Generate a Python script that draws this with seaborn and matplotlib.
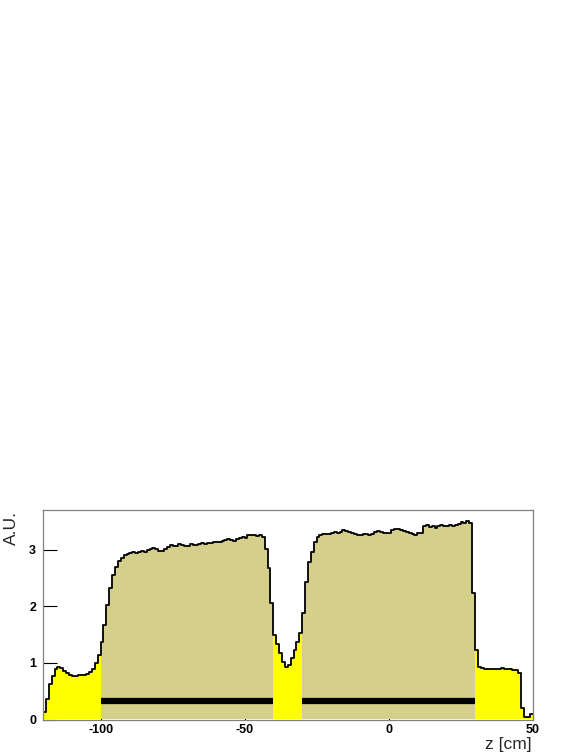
import numpy as np
import pandas as pd
import matplotlib
matplotlib.use("Agg")
import matplotlib.pyplot as plt
import seaborn as sns

# ==========================================
# data (1 cm bins, z from -120 to 50)
# ==========================================
z_lo, z_hi = -120, 50

tail_left = [0.14, 0.36, 0.62, 0.76, 0.89, 0.93, 0.91, 0.86, 0.82, 0.79,
             0.77, 0.77, 0.78, 0.78, 0.79, 0.81, 0.84, 0.90, 1.00, 1.14]
block_1 = [1.37, 1.67, 2.02, 2.32, 2.55, 2.70, 2.80, 2.86, 2.91, 2.93,
           2.94, 2.95, 2.94, 2.96, 2.97, 2.96, 3.00, 3.02, 3.03, 3.01,
           2.98, 2.97, 3.01, 3.05, 3.08, 3.06, 3.07, 3.10, 3.08, 3.06,
           3.07, 3.10, 3.09, 3.08, 3.10, 3.11, 3.10, 3.12, 3.11, 3.13,
           3.14, 3.13, 3.15, 3.17, 3.18, 3.17, 3.16, 3.18, 3.21, 3.22,
           3.21, 3.26, 3.25, 3.25, 3.24, 3.25, 3.22, 3.02, 2.67, 2.05]
gap_mid = [1.50, 1.33, 1.18, 1.02, 0.93, 0.97, 1.08, 1.22, 1.36, 1.52]
block_2 = [1.88, 2.43, 2.78, 2.96, 3.14, 3.22, 3.25, 3.27, 3.28, 3.28,
           3.30, 3.31, 3.30, 3.32, 3.34, 3.33, 3.31, 3.29, 3.28, 3.26,
           3.25, 3.27, 3.28, 3.26, 3.28, 3.31, 3.33, 3.32, 3.30, 3.29,
           3.30, 3.34, 3.37, 3.36, 3.35, 3.33, 3.32, 3.30, 3.28, 3.26,
           3.30, 3.29, 3.42, 3.44, 3.40, 3.41, 3.39, 3.42, 3.44, 3.41,
           3.42, 3.43, 3.41, 3.44, 3.46, 3.48, 3.47, 3.50, 3.47, 2.23]
tail_right = [1.23, 0.92, 0.91, 0.90, 0.90, 0.90, 0.89, 0.90, 0.90, 0.91,
              0.90, 0.89, 0.89, 0.88, 0.87, 0.83, 0.20, 0.05, 0.04, 0.10]

# fiducial regions (khaki) and the black bars marking them
region_start = [-100, -30]
region_end = [-40, 30]
bar_level = 0.32

x_ticks = [-100, -50, 0, 50]
y_ticks = [0, 1, 2, 3]

counts = np.array(tail_left + block_1 + gap_mid + block_2 + tail_right)
centers = np.arange(z_lo, z_hi) + 0.5
df = pd.DataFrame({"z": centers, "w": counts})

# ==========================================
# plot
# ==========================================
sns.set_style("ticks")
plt.rcParams['font.family'] = ['Liberation Sans', 'DejaVu Sans']

fig = plt.figure(figsize=(5.81, 7.52), dpi=100)
ax = fig.add_axes([43 / 581, 1 - 719.5 / 752, 489.5 / 581, 209.5 / 752])

# full distribution in yellow
sns.histplot(data=df, x="z", weights="w", binwidth=1, binrange=(z_lo, z_hi),
             element="step", fill=True, color="#ffff00", alpha=1, linewidth=0, ax=ax)

# fiducial regions in khaki
for lo, hi in zip(region_start, region_end):
    sub = df[(df.z > lo) & (df.z < hi)]
    sns.histplot(data=sub, x="z", weights="w", binwidth=1, binrange=(lo, hi),
                 element="step", fill=True, color="#d4cf8a", alpha=1, linewidth=0, ax=ax)

# outline
sns.histplot(data=df, x="z", weights="w", binwidth=1, binrange=(z_lo, z_hi),
             element="step", fill=False, color="black", linewidth=1.3, ax=ax)

ax.hlines([bar_level] * len(region_start), region_start, region_end,
          colors="black", linewidth=4.5, zorder=5)

ax.set_xlim(z_lo, z_hi)
ax.set_ylim(0, 3.7)
ax.set_xticks(x_ticks)
ax.set_xticklabels([str(t) for t in x_ticks])
ax.set_yticks(y_ticks)
ax.set_yticklabels([str(t) for t in y_ticks])
ax.tick_params(axis="x", direction="in", length=4.5, width=0.8, pad=3,
               labelsize=9, colors="black")
ax.tick_params(axis="y", direction="in", length=10, width=0.8, pad=5,
               labelsize=9, colors="black")
for lab in ax.get_xticklabels() + ax.get_yticklabels():
    lab.set_fontweight("bold")

for sp in ax.spines.values():
    sp.set_color("#808080")
    sp.set_linewidth(0.9)
    sp.set_zorder(6)

ax.set_xlabel("")
ax.set_ylabel("")
fig.text(532 / 581, 1 - 744 / 752, "z [cm]", ha="right", va="center", fontsize=12.5)
fig.text(11.5 / 581, 1 - 511 / 752, "A.U.", ha="center", va="top", rotation=90, fontsize=12.5)

fig.savefig("out.png", dpi=100)
plt.close(fig)
